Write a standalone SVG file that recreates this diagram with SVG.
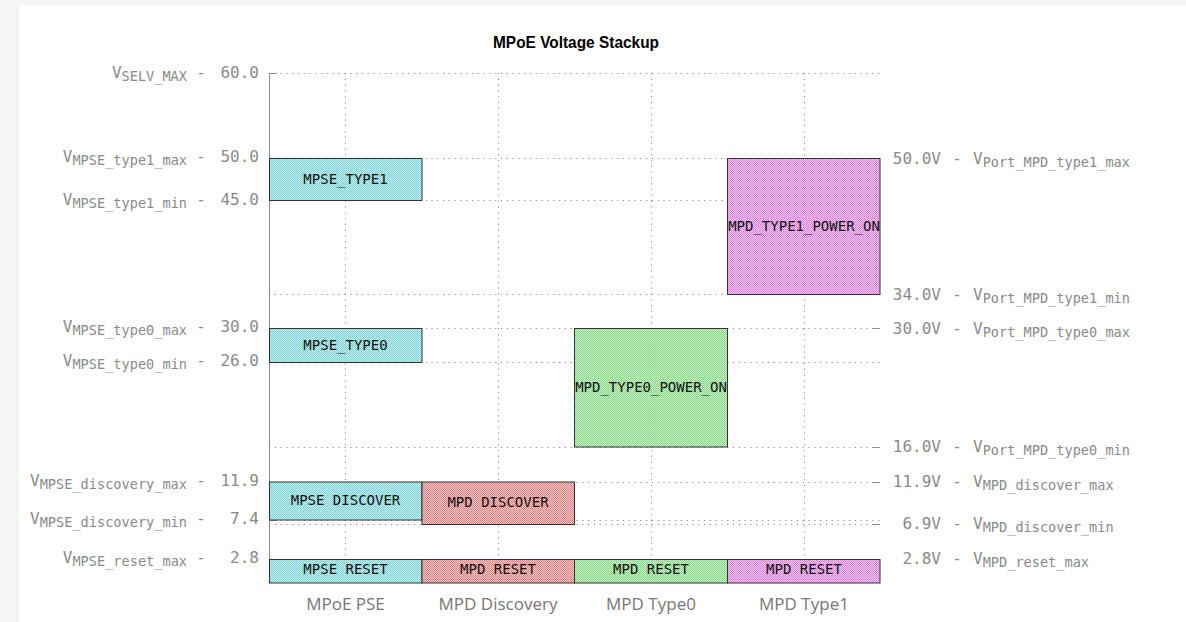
<svg xmlns="http://www.w3.org/2000/svg" width="1186" height="622" viewBox="0 0 1186 622">
<style>
.lbl{font-family:"DejaVu Sans Mono",monospace;font-size:16px;fill:#8a8a8a}
.sub{font-size:13.6px}
.box{stroke:#333;stroke-width:1;fill-opacity:0.9}
.bt{font-family:"DejaVu Sans Mono",monospace;font-size:14px;fill:#111;text-anchor:middle}
.cat{font-family:"Open Sans","Liberation Sans",Arial,sans-serif;font-size:17px;fill:#777;text-anchor:middle}
.grid{stroke:#8c8c8c;stroke-width:1;stroke-dasharray:1.2 4.6;fill:none}
.tick{stroke:#8c8c8c;stroke-width:1;fill:none}
</style>
<defs>
<pattern id="pc" width="2" height="2" patternUnits="userSpaceOnUse"><rect width="2" height="2" fill="#c6eeee"/><rect width="1" height="1" fill="#66cccc"/><rect x="1" y="1" width="1" height="1" fill="#66cccc"/></pattern>
<pattern id="pr" width="2" height="2" patternUnits="userSpaceOnUse"><rect width="2" height="2" fill="#f4c4c4"/><rect width="1" height="1" fill="#dc7070"/><rect x="1" y="1" width="1" height="1" fill="#dc7070"/></pattern>
<pattern id="pg" width="2" height="2" patternUnits="userSpaceOnUse"><rect width="2" height="2" fill="#c6efc6"/><rect width="1" height="1" fill="#74d274"/><rect x="1" y="1" width="1" height="1" fill="#74d274"/></pattern>
<pattern id="pm" width="2" height="2" patternUnits="userSpaceOnUse"><rect width="2" height="2" fill="#f3c4f3"/><rect width="1" height="1" fill="#d470d4"/><rect x="1" y="1" width="1" height="1" fill="#d470d4"/></pattern>
</defs>
<rect width="1186" height="622" fill="#f4f5f7"/>
<rect x="19" y="5" width="1167" height="617" fill="#ffffff"/>
<text x="576" y="48" font-family="Liberation Sans,Arial,sans-serif" font-weight="bold" font-size="17" text-anchor="middle" textLength="166" lengthAdjust="spacingAndGlyphs" fill="#000">MPoE Voltage Stackup</text>

<g id="grid">
<path class="grid" d="M269 73.5H880M269 158.5H880M269 200.5H880M269 328.5H880M269 362.5H880M269 294.5H880M269 447.5H880M269 482.5H880M269 520.5H880M269 524.5H880M269 559.5H880"/>
<path class="grid" d="M345.5 73V583M498.5 73V583M651.5 73V583M804.5 73V583"/>
<path class="tick" d="M269.5 73V583M269 73.5H277M269 158.5H277M269 200.5H277M269 328.5H277M269 362.5H277M269 482.5H277M269 520.5H277M269 559.5H277M872 328.5H880M872 447.5H880M872 482.5H880M872 524.5H880M872 559.5H880M872 158.5H880M872 294.5H880"/>
</g>

<g id="connectors"></g>

<g id="mpse_type1"><rect class="box" x="269.5" y="158.5" width="152.5" height="42" fill="url(#pc)"/><text class="bt" x="345.5" y="184">MPSE_TYPE1</text></g>
<g id="mpse_type0"><rect class="box" x="269.5" y="328.5" width="152.5" height="34" fill="url(#pc)"/><text class="bt" x="345.5" y="350">MPSE_TYPE0</text></g>
<g id="mpse_discover"><rect class="box" x="269.5" y="482" width="152.5" height="38" fill="url(#pc)"/><text class="bt" x="345.5" y="505">MPSE DISCOVER</text></g>
<g id="mpse_reset"><rect class="box" x="269.5" y="559.5" width="152.5" height="23.5" fill="url(#pc)"/><text class="bt" x="345.5" y="574">MPSE RESET</text></g>

<g id="mpd_discover"><rect class="box" x="422" y="482" width="152.5" height="42.5" fill="url(#pr)"/><text class="bt" x="498" y="507">MPD DISCOVER</text></g>
<g id="mpd_reset_disc"><rect class="box" x="422" y="559.5" width="152.5" height="23.5" fill="url(#pr)"/><text class="bt" x="498" y="574">MPD RESET</text></g>

<g id="mpd_type0_power_on"><rect class="box" x="574.5" y="328.5" width="153" height="118.5" fill="url(#pg)"/><text class="bt" x="651" y="392">MPD_TYPE0_POWER_ON</text></g>
<g id="mpd_reset_type0"><rect class="box" x="574.5" y="559.5" width="153" height="23.5" fill="url(#pg)"/><text class="bt" x="651" y="574">MPD RESET</text></g>

<g id="mpd_type1_power_on"><rect class="box" x="727.5" y="158.5" width="152.5" height="136" fill="url(#pm)"/><text class="bt" x="804" y="231">MPD_TYPE1_POWER_ON</text></g>
<g id="mpd_reset_type1"><rect class="box" x="727.5" y="559.5" width="152.5" height="23.5" fill="url(#pm)"/><text class="bt" x="804" y="574">MPD RESET</text></g>

<g id="left_axis" class="lbl">
<text x="187" y="78" text-anchor="end">V<tspan class="sub" dy="3">SELV_MAX</tspan></text><text x="201" y="78" text-anchor="middle">-</text><text x="259" y="78" text-anchor="end">60.0</text>
<text x="187" y="162" text-anchor="end">V<tspan class="sub" dy="3">MPSE_type1_max</tspan></text><text x="201" y="162" text-anchor="middle">-</text><text x="259" y="162" text-anchor="end">50.0</text>
<text x="187" y="205" text-anchor="end">V<tspan class="sub" dy="3">MPSE_type1_min</tspan></text><text x="201" y="205" text-anchor="middle">-</text><text x="259" y="205" text-anchor="end">45.0</text>
<text x="187" y="332" text-anchor="end">V<tspan class="sub" dy="3">MPSE_type0_max</tspan></text><text x="201" y="332" text-anchor="middle">-</text><text x="259" y="332" text-anchor="end">30.0</text>
<text x="187" y="366" text-anchor="end">V<tspan class="sub" dy="3">MPSE_type0_min</tspan></text><text x="201" y="366" text-anchor="middle">-</text><text x="259" y="366" text-anchor="end">26.0</text>
<text x="187" y="486" text-anchor="end">V<tspan class="sub" dy="3">MPSE_discovery_max</tspan></text><text x="201" y="486" text-anchor="middle">-</text><text x="259" y="486" text-anchor="end">11.9</text>
<text x="187" y="524" text-anchor="end">V<tspan class="sub" dy="3">MPSE_discovery_min</tspan></text><text x="201" y="524" text-anchor="middle">-</text><text x="259" y="524" text-anchor="end">7.4</text>
<text x="187" y="563" text-anchor="end">V<tspan class="sub" dy="3">MPSE_reset_max</tspan></text><text x="201" y="563" text-anchor="middle">-</text><text x="259" y="563" text-anchor="end">2.8</text>
</g>

<g id="right_axis" class="lbl">
<text x="941" y="164" text-anchor="end">50.0V</text><text x="957" y="164" text-anchor="middle">-</text><text x="973" y="164">V<tspan class="sub" dy="3">Port_MPD_type1_max</tspan></text>
<text x="941" y="300" text-anchor="end">34.0V</text><text x="957" y="300" text-anchor="middle">-</text><text x="973" y="300">V<tspan class="sub" dy="3">Port_MPD_type1_min</tspan></text>
<text x="941" y="334" text-anchor="end">30.0V</text><text x="957" y="334" text-anchor="middle">-</text><text x="973" y="334">V<tspan class="sub" dy="3">Port_MPD_type0_max</tspan></text>
<text x="941" y="452" text-anchor="end">16.0V</text><text x="957" y="452" text-anchor="middle">-</text><text x="973" y="452">V<tspan class="sub" dy="3">Port_MPD_type0_min</tspan></text>
<text x="941" y="487" text-anchor="end">11.9V</text><text x="957" y="487" text-anchor="middle">-</text><text x="973" y="487">V<tspan class="sub" dy="3">MPD_discover_max</tspan></text>
<text x="941" y="529" text-anchor="end">6.9V</text><text x="957" y="529" text-anchor="middle">-</text><text x="973" y="529">V<tspan class="sub" dy="3">MPD_discover_min</tspan></text>
<text x="941" y="564" text-anchor="end">2.8V</text><text x="957" y="564" text-anchor="middle">-</text><text x="973" y="564">V<tspan class="sub" dy="3">MPD_reset_max</tspan></text>
</g>

<g id="categories" class="cat">
<text x="345.5" y="610">MPoE PSE</text>
<text x="498" y="610">MPD Discovery</text>
<text x="651" y="610">MPD Type0</text>
<text x="804" y="610">MPD Type1</text>
</g>
</svg>
